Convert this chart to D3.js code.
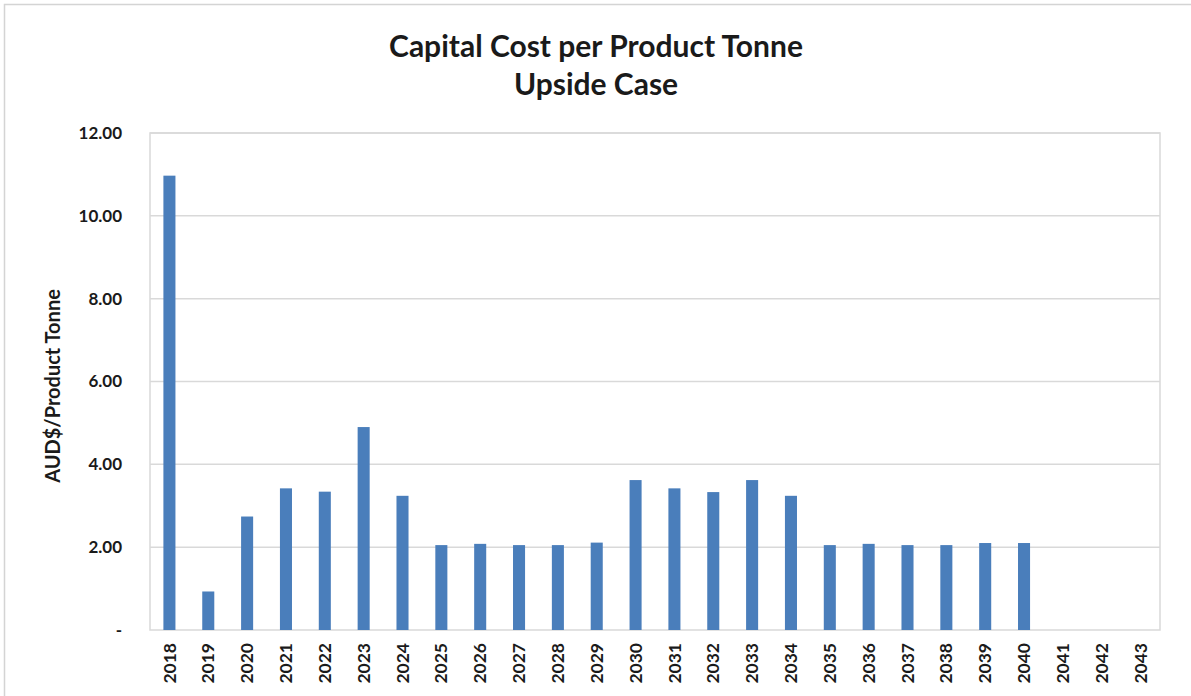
<!DOCTYPE html>
<html>
<head>
<meta charset="utf-8">
<script src="https://cdn.jsdelivr.net/npm/d3@7"></script>
<style>
  html, body { margin: 0; padding: 0; background: #ffffff; }
  svg { display: block; }
  text { font-family: Lato, "Open Sans", sans-serif; font-weight: 700; fill: #1a1a1a; }
</style>
</head>
<body>
<svg id="chart" width="1191" height="696"></svg>
<script>
// Capital cost per product tonne by year (AUD$/t)
const years = ["2018","2019","2020","2021","2022","2023","2024","2025","2026","2027",
               "2028","2029","2030","2031","2032","2033","2034","2035","2036","2037",
               "2038","2039","2040","2041","2042","2043"];
const costPerTonne = [10.97, 0.93, 2.74, 3.42, 3.34, 4.90, 3.24, 2.05, 2.08, 2.05,
                      2.05, 2.11, 3.62, 3.42, 3.33, 3.62, 3.24, 2.05, 2.08, 2.05,
                      2.05, 2.10, 2.10, 0, 0, 0];
const yTicks = [0, 2, 4, 6, 8, 10, 12];
const titleLines = ["Capital Cost per Product Tonne", "Upside Case"];
const yAxisTitle = "AUD$/Product Tonne";

const W = 1191, H = 696;
const plot = { left: 150, right: 1160, top: 133, bottom: 630 };

const svg = d3.select("#chart");

// outer frame
svg.append("rect")
  .attr("x", 4.5).attr("y", 4.5)
  .attr("width", W + 10).attr("height", H + 10)
  .attr("fill", "none").attr("stroke", "#d4d4d4").attr("stroke-width", 1.5);

const x = d3.scaleBand()
  .domain(years)
  .range([plot.left, plot.right])
  .paddingInner(0.69)
  .paddingOuter(0.345);

const y = d3.scaleLinear()
  .domain([0, 12])
  .range([plot.bottom, plot.top]);

// horizontal gridlines
svg.append("g")
  .selectAll("line")
  .data(yTicks.filter(d => d > 0))
  .join("line")
  .attr("x1", plot.left).attr("x2", plot.right)
  .attr("y1", d => y(d)).attr("y2", d => y(d))
  .attr("stroke", "#d9d9d9").attr("stroke-width", 1.5);

// plot area border
svg.append("rect")
  .attr("x", plot.left).attr("y", plot.top)
  .attr("width", plot.right - plot.left).attr("height", plot.bottom - plot.top)
  .attr("fill", "none").attr("stroke", "#d9d9d9").attr("stroke-width", 1.5);

// bars
svg.append("g")
  .selectAll("rect")
  .data(years.map((yr, i) => ({ yr, v: costPerTonne[i] })))
  .join("rect")
  .attr("x", d => x(d.yr))
  .attr("width", x.bandwidth())
  .attr("y", d => y(d.v))
  .attr("height", d => y(0) - y(d.v))
  .attr("fill", "#4a7ebb");

// y axis labels
const yAxis = d3.axisLeft(y)
  .tickValues(yTicks)
  .tickSize(0)
  .tickPadding(28)
  .tickFormat(d => d === 0 ? "-" : d3.format(".2f")(d));
const gy = svg.append("g").attr("transform", `translate(${plot.left},0)`).call(yAxis);
gy.select(".domain").remove();
gy.selectAll("text")
  .style("font-family", "Lato, sans-serif")
  .style("font-weight", "700")
  .style("font-size", "17px")
  .attr("fill", "#1a1a1a");

// x axis labels (rotated)
const xAxis = d3.axisBottom(x).tickSize(0).tickPadding(0);
const gx = svg.append("g").attr("transform", `translate(0,${plot.bottom})`).call(xAxis);
gx.select(".domain").remove();
gx.selectAll("text")
  .style("font-family", "Lato, sans-serif")
  .style("font-weight", "700")
  .style("font-size", "17.5px")
  .attr("fill", "#1a1a1a")
  .attr("transform", "rotate(-90)")
  .attr("text-anchor", "end")
  .attr("x", -13)
  .attr("y", 0)
  .attr("dy", "0.35em");

// y axis title
svg.append("text")
  .attr("transform", "translate(60,386) rotate(-90)")
  .attr("text-anchor", "middle")
  .style("font-size", "20px")
  .text(yAxisTitle);

// chart title
svg.append("g")
  .selectAll("text")
  .data(titleLines)
  .join("text")
  .attr("x", 596)
  .attr("y", (d, i) => 57 + i * 38)
  .attr("text-anchor", "middle")
  .style("font-size", "30px")
  .text(d => d);
</script>
</body>
</html>
